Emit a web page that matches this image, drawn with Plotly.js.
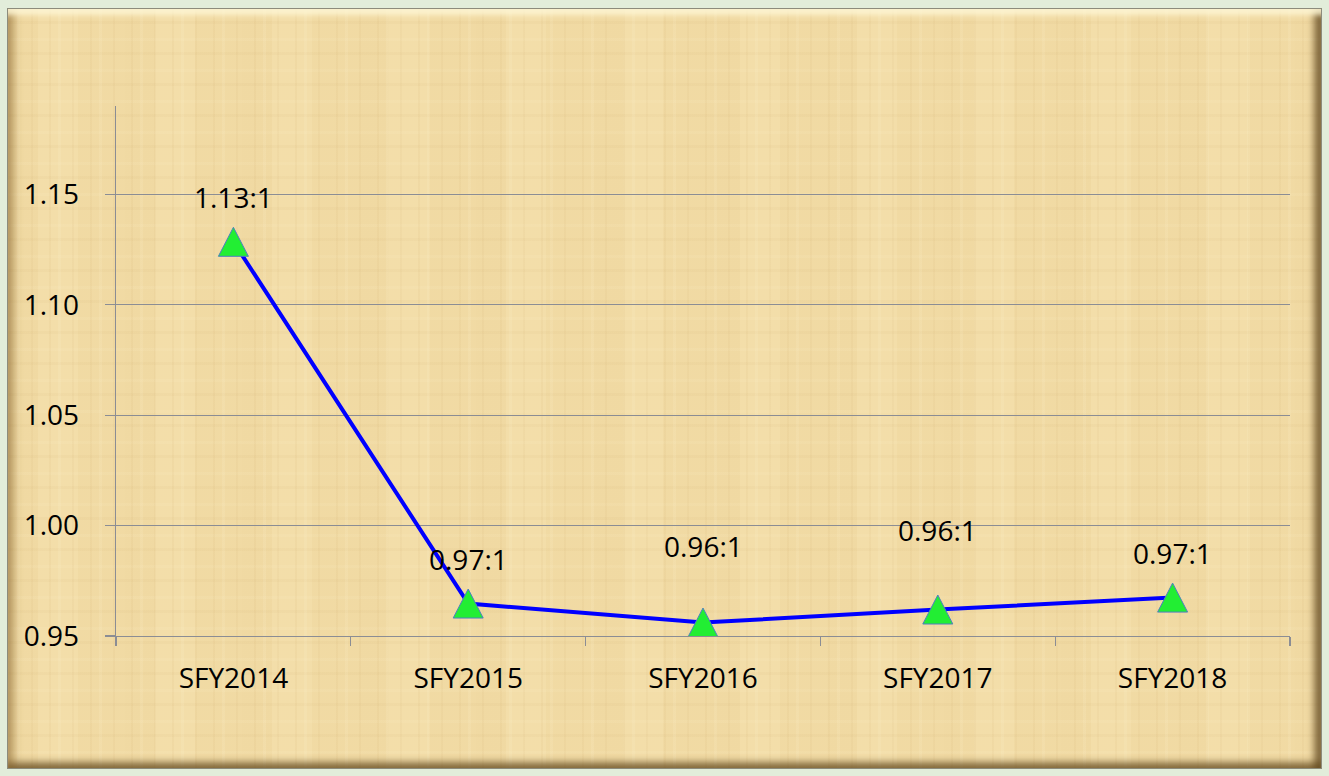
<!DOCTYPE html>
<html>
<head>
<meta charset="utf-8">
<script src="https://cdn.plot.ly/plotly-3.0.1.min.js"></script>
<style>
  html, body { margin:0; padding:0; width:1329px; height:776px; overflow:hidden; background:#e2edda; }
  #frame {
    position:absolute; left:7px; top:8px; width:1315px; height:761px;
    box-sizing:border-box; border:1px solid #8d8c7c;
    background:
      repeating-linear-gradient(90deg, rgba(185,140,70,0.06) 0 2px, transparent 2px 9px, rgba(255,246,214,0.12) 9px 12px, transparent 12px 23px, rgba(180,135,70,0.05) 23px 25px, transparent 25px 41px),
      repeating-linear-gradient(0deg, rgba(185,145,80,0.05) 0 3px, transparent 3px 14px, rgba(255,242,205,0.10) 14px 17px, transparent 17px 31px),
      repeating-linear-gradient(90deg, rgba(205,165,95,0.05) 0 30px, rgba(255,242,205,0.08) 30px 70px, rgba(210,170,100,0.04) 70px 117px),
      #f2dca6;
    box-shadow:
      inset 0 9px 5px -3px rgba(255,248,215,0.85),
      inset 10px 0 8px -4px rgba(135,100,45,0.55),
      inset -11px 0 7px -4px rgba(95,70,30,0.75),
      inset 0 -10px 7px -4px rgba(95,70,30,0.70);
  }
  #chart { position:absolute; left:0; top:0; width:1329px; height:776px; }
</style>
</head>
<body>
<div id="frame"></div>
<div id="chart"></div>
<script>
// ---- data ----
const categories = ["SFY2014", "SFY2015", "SFY2016", "SFY2017", "SFY2018"];
const ratioValues = [1.1285, 0.9647, 0.9561, 0.9620, 0.9674];
const ratioLabels = ["1.13:1", "0.97:1", "0.96:1", "0.96:1", "0.97:1"];
const yTickValues = [0.95, 1.00, 1.05, 1.10, 1.15];

// ---- styles ----
const labelShift = [45, 45, 77, 80, 45];   // px above point
const FONT = "Open Sans, Liberation Sans, sans-serif";
const GRID = "#8b8d94";

const trace = {
  type: "scatter",
  mode: "lines",
  x: categories,
  y: ratioValues,
  line: { color: "#0000ff", width: 4 },
  hoverinfo: "skip",
  showlegend: false
};

const shapes = categories.map((c, i) => ({
  type: "path",
  xref: "x", yref: "y",
  xsizemode: "pixel", ysizemode: "pixel",
  xanchor: i, yanchor: ratioValues[i],
  path: "M-15,-14.5 L15,-14.5 L0,14.5 Z",
  fillcolor: "#22ee33",
  line: { color: "#4f7fc0", width: 1 },
  layer: "above"
}));

const annotations = categories.map((c, i) => ({
  x: c, y: ratioValues[i], xref: "x", yref: "y",
  text: ratioLabels[i], showarrow: false,
  yshift: labelShift[i],
  font: { family: FONT, size: 28, color: "#000000" }
}));

const layout = {
  width: 1329, height: 776,
  margin: { l: 116, r: 39, t: 106, b: 140, pad: 0 },
  paper_bgcolor: "rgba(0,0,0,0)",
  plot_bgcolor: "rgba(0,0,0,0)",
  showlegend: false,
  font: { family: FONT, size: 28, color: "#000000" },
  xaxis: {
    type: "category",
    categoryorder: "array", categoryarray: categories,
    range: [-0.5, categories.length - 0.5],
    showline: true, linecolor: GRID, linewidth: 1.3,
    showgrid: false, zeroline: false,
    ticks: "outside", ticklen: 9, tickcolor: GRID, tickwidth: 1.3,
    tickson: "boundaries",
    ticklabelstandoff: 17,
    tickfont: { family: FONT, size: 28, color: "#000000" },
    fixedrange: true
  },
  yaxis: {
    range: [0.95, 1.19],
    tickvals: yTickValues,
    tickformat: ".2f",
    showline: true, linecolor: GRID, linewidth: 1.3,
    showgrid: true, gridcolor: GRID, gridwidth: 1.3,
    zeroline: false,
    ticks: "outside", ticklen: 10, tickcolor: GRID, tickwidth: 1.3,
    ticklabelstandoff: 20,
    tickfont: { family: FONT, size: 28, color: "#000000" },
    fixedrange: true
  },
  shapes: shapes,
  annotations: annotations
};

Plotly.newPlot("chart", [trace], layout, { staticPlot: true, displayModeBar: false });
</script>
</body>
</html>
